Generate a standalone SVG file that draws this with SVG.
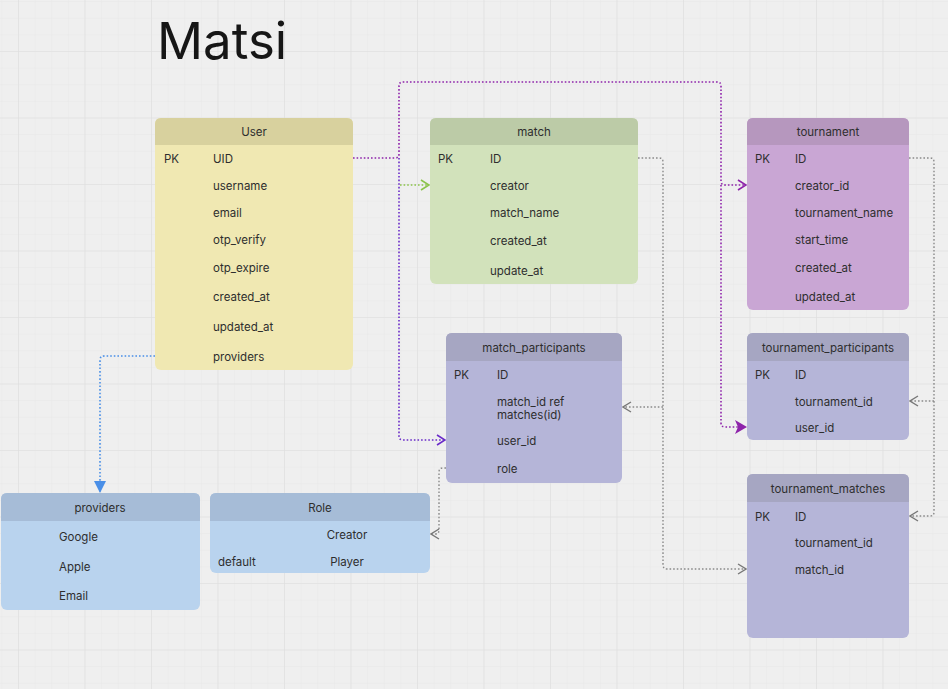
<svg xmlns="http://www.w3.org/2000/svg" width="948" height="689" viewBox="0 0 948 689">
<defs>
<pattern id="minor" x="18" y="51" width="16.625" height="16.625" patternUnits="userSpaceOnUse">
<path d="M0,0 H16.625 M0,0 V16.625" fill="none" stroke="#e7e7e7" stroke-width="1"/>
</pattern>
<pattern id="major" x="18" y="51" width="66.5" height="66.5" patternUnits="userSpaceOnUse">
<path d="M0,0 H66.5 M0,0 V66.5" fill="none" stroke="#dedede" stroke-width="1.2"/>
</pattern>
<marker id="aPurple" viewBox="0 0 10 12" markerWidth="10" markerHeight="12" refX="9" refY="6" orient="auto" markerUnits="userSpaceOnUse">
<path d="M1,1 L9,6 L1,11" fill="none" stroke="#8e24aa" stroke-width="1.6"/>
</marker>
<marker id="aIndigo" viewBox="0 0 10 12" markerWidth="10" markerHeight="12" refX="9" refY="6" orient="auto" markerUnits="userSpaceOnUse">
<path d="M1,1 L9,6 L1,11" fill="none" stroke="#6a2bc9" stroke-width="1.6"/>
</marker>
<marker id="aPurpleFill" viewBox="0 0 12 14" markerWidth="12" markerHeight="14" refX="11" refY="7" orient="auto" markerUnits="userSpaceOnUse">
<path d="M0,0 L12,7 L0,14 L3,7 Z" fill="#8e24aa"/>
</marker>
<marker id="aGreen" viewBox="0 0 10 12" markerWidth="10" markerHeight="12" refX="9" refY="6" orient="auto" markerUnits="userSpaceOnUse">
<path d="M1,1 L9,6 L1,11" fill="none" stroke="#8bc34a" stroke-width="1.6"/>
</marker>
<marker id="aGray" viewBox="0 0 10 12" markerWidth="10" markerHeight="12" refX="9" refY="6" orient="auto" markerUnits="userSpaceOnUse">
<path d="M1,1 L9,6 L1,11" fill="none" stroke="#777" stroke-width="1.4"/>
</marker>
<marker id="aBlue" viewBox="0 0 12 12" markerWidth="12" markerHeight="12" refX="11" refY="6" orient="auto" markerUnits="userSpaceOnUse">
<path d="M0,0 L12,6 L0,12 Z" fill="#4a8fe7"/>
</marker>
</defs>
<style>
text { font-family: Inter, "Noto Sans", "Liberation Sans", sans-serif; font-size: 11.5px; fill: #2e2e2e; }
.title { font-size: 51px; fill: #161616; }
.hd { text-anchor: middle; }
.c { fill: none; stroke-width: 1.6; stroke-dasharray: 1.6 2; }
.purple { stroke: #8e24aa; }
.indigo { stroke: #6a2bc9; }
.green { stroke: #8bc34a; }
.gray { stroke: #8a8a8a; stroke-width: 1.4; }
.blue { stroke: #4a8fe7; }
.yb { fill: #f0e8b2; } .yh { fill: #d8d19e; }
.gb { fill: #d2e2bb; } .gh { fill: #bccba7; }
.pb { fill: #c9a6d4; } .ph { fill: #b697be; }
.vb { fill: #b5b5d8; } .vh { fill: #a6a6c2; }
.bb { fill: #b9d3ee; } .bh { fill: #a6bcd7; }
</style>
<rect width="948" height="689" fill="#efefef"/>
<rect width="948" height="689" fill="url(#minor)"/>
<rect width="948" height="689" fill="url(#major)"/>

<text class="title" x="157" y="59">Matsi</text>

<g id="connectors">
<path class="c purple" d="M353,158 H395 Q399,158 399,154 V86 Q399,82 403,82 H717 Q721,82 721,86 V181 Q721,185 725,185 H746" marker-end="url(#aPurple)"/>
<path class="c indigo" d="M399,158 V436 Q399,440 403,440 H445" marker-end="url(#aIndigo)"/>
<path class="c green" d="M400,185 H429" marker-end="url(#aGreen)"/>
<path class="c purple" d="M721,185 V423 Q721,427 725,427 H746" marker-end="url(#aPurpleFill)"/>
<path class="c gray" d="M638,158 H659 Q663,158 663,162 V565 Q663,569 667,569 H746" marker-end="url(#aGray)"/>
<path class="c gray" d="M663,407 H623" marker-end="url(#aGray)"/>
<path class="c gray" d="M909,158 H930 Q934,158 934,162 V512 Q934,516 930,516 H910" marker-end="url(#aGray)"/>
<path class="c gray" d="M934,401 H910" marker-end="url(#aGray)"/>
<path class="c gray" d="M446,468 H443 Q439,468 439,472 V530 Q439,534 435,534 H431" marker-end="url(#aGray)"/>
<path class="c blue" d="M155,356 H104 Q100,356 100,360 V492" marker-end="url(#aBlue)"/>
</g>

<g id="user">
<rect class="yb" x="155" y="118" width="198" height="252" rx="6"/>
<path class="yh" d="M155,145 V124 Q155,118 161,118 H347 Q353,118 353,124 V145 Z"/>
<text class="hd" x="254" y="136">User</text>
<text x="164" y="163">PK</text>
<text x="213" y="163">UID</text>
<text x="213" y="190">username</text>
<text x="213" y="217">email</text>
<text x="213" y="244">otp_verify</text>
<text x="213" y="272">otp_expire</text>
<text x="213" y="301">created_at</text>
<text x="213" y="331">updated_at</text>
<text x="213" y="361">providers</text>
</g>

<g id="match">
<rect class="gb" x="430" y="118" width="208" height="166" rx="6"/>
<path class="gh" d="M430,145 V124 Q430,118 436,118 H632 Q638,118 638,124 V145 Z"/>
<text class="hd" x="534" y="136">match</text>
<text x="438" y="163">PK</text>
<text x="490" y="163">ID</text>
<text x="490" y="190">creator</text>
<text x="490" y="217">match_name</text>
<text x="490" y="245">created_at</text>
<text x="490" y="275">update_at</text>
</g>

<g id="tournament">
<rect class="pb" x="747" y="118" width="162" height="192" rx="6"/>
<path class="ph" d="M747,145 V124 Q747,118 753,118 H903 Q909,118 909,124 V145 Z"/>
<text class="hd" x="828" y="136">tournament</text>
<text x="755" y="163">PK</text>
<text x="795" y="163">ID</text>
<text x="795" y="190">creator_id</text>
<text x="795" y="217">tournament_name</text>
<text x="795" y="244">start_time</text>
<text x="795" y="272">created_at</text>
<text x="795" y="301">updated_at</text>
</g>

<g id="match_participants">
<rect class="vb" x="446" y="333" width="176" height="150" rx="6"/>
<path class="vh" d="M446,361 V339 Q446,333 452,333 H616 Q622,333 622,339 V361 Z"/>
<text class="hd" x="534" y="352">match_participants</text>
<text x="454" y="379">PK</text>
<text x="497" y="379">ID</text>
<text x="497" y="406">match_id ref</text>
<text x="497" y="419">matches(id)</text>
<text x="497" y="445">user_id</text>
<text x="497" y="473">role</text>
</g>

<g id="tournament_participants">
<rect class="vb" x="747" y="333" width="162" height="107" rx="6"/>
<path class="vh" d="M747,361 V339 Q747,333 753,333 H903 Q909,333 909,339 V361 Z"/>
<text class="hd" x="828" y="352">tournament_participants</text>
<text x="755" y="379">PK</text>
<text x="795" y="379">ID</text>
<text x="795" y="406">tournament_id</text>
<text x="795" y="432">user_id</text>
</g>

<g id="tournament_matches">
<rect class="vb" x="747" y="474" width="162" height="164" rx="6"/>
<path class="vh" d="M747,502 V480 Q747,474 753,474 H903 Q909,474 909,480 V502 Z"/>
<text class="hd" x="828" y="493">tournament_matches</text>
<text x="755" y="521">PK</text>
<text x="795" y="521">ID</text>
<text x="795" y="547">tournament_id</text>
<text x="795" y="574">match_id</text>
</g>

<g id="providers">
<rect class="bb" x="1" y="493" width="199" height="117" rx="6"/>
<path class="bh" d="M1,521 V499 Q1,493 7,493 H194 Q200,493 200,499 V521 Z"/>
<text class="hd" x="100" y="512">providers</text>
<text x="59" y="541">Google</text>
<text x="59" y="571">Apple</text>
<text x="59" y="600">Email</text>
</g>

<g id="role">
<rect class="bb" x="210" y="493" width="220" height="80" rx="6"/>
<path class="bh" d="M210,521 V499 Q210,493 216,493 H424 Q430,493 430,499 V521 Z"/>
<text class="hd" x="320" y="512">Role</text>
<text class="hd" x="347" y="539">Creator</text>
<text x="218" y="566">default</text>
<text class="hd" x="347" y="566">Player</text>
</g>
</svg>
